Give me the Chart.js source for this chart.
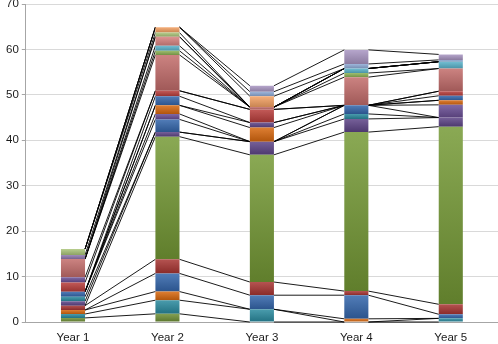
<!DOCTYPE html>
<html>
<head>
<meta charset="utf-8">
<script src="https://cdn.jsdelivr.net/npm/chart.js@4.4.1/dist/chart.umd.min.js"></script>
<style>
  html, body { margin: 0; padding: 0; background: #fff; }
  #wrap { width: 498px; height: 344px; position: relative; }
</style>
</head>
<body>
<div id="wrap"><canvas id="chart"></canvas></div>
<script>
const CATEGORIES = ["Year 1", "Year 2", "Year 3", "Year 4", "Year 5"];

// Stack per year, bottom -> top, one value per series (24 series)
const YEAR_1 = [0.9, 0.86, 0.88, 0, 0.96, 0, 0.96, 1.0, 1.1, 0, 0, 0, 0, 2.06, 1.11, 4.03, 0, 0, 0, 0.88, 1.32, 0, 0, 0];
const YEAR_2 = [1.8, 3.0, 1.9, 4.0, 3.1, 27.0, 1.0, 0, 2.8, 1.2, 1.9, 0, 2.0, 1.2, 0, 7.9, 0.9, 1.1, 2.0, 0, 0.9, 1.2, 0, 0];
const YEAR_3 = [0, 2.8, 0, 3.1, 2.9, 28.0, 2.9, 0, 0, 0, 3.1, 1.1, 0, 2.9, 0, 0.5, 0, 0, 0, 0, 0, 2.4, 1.0, 1.3];
const YEAR_4 = [0, 0, 0.7, 5.2, 0.9, 35.0, 2.9, 1.1, 1.9, 0, 0, 0, 0, 0, 0, 6.2, 0.9, 1.0, 0, 0, 0, 0, 1.0, 3.1];
const YEAR_5 = [0, 0.8, 0, 0.9, 2.2, 39.1, 2.0, 0, 0, 2.8, 1.0, 0, 1.0, 1.0, 0, 5.0, 0, 1.5, 0, 0, 0, 0, 0.4, 1.2];
const YEARS = [YEAR_1, YEAR_2, YEAR_3, YEAR_4, YEAR_5];

// Excel-ish palette, one per series
const SERIES_COLORS = [
  "#6E8F35", "#2A8A9E", "#D8680F", "#3466AC", "#A83532", "#759A36",
  "#5E4487", "#2A8A9E", "#3466AC", "#6A4E95", "#D8680F", "#5E4487",
  "#3466AC", "#B83D3A", "#6A4E95", "#C36D6B", "#8DB255", "#5AB3CB",
  "#D88280", "#8F78AE", "#ABC57A", "#F4A163", "#8EAAD6", "#A996C3",
];

const Y_MAX = 70;
const Y_STEP = 10;

function mix(hex, target, t) {
  const n = parseInt(hex.slice(1), 16);
  const ch = [(n >> 16) & 255, (n >> 8) & 255, n & 255].map((v) =>
    Math.round(v + (target - v) * t)
  );
  return `rgb(${ch[0]}, ${ch[1]}, ${ch[2]})`;
}

// vertical gradient per segment, lighter on top like the old Excel style
function segmentFill(ctx) {
  const base = SERIES_COLORS[ctx.datasetIndex];
  const chart = ctx.chart;
  if (ctx.type !== "data" || !chart.chartArea) return base;
  const stack = YEARS[ctx.dataIndex];
  let bottom = 0;
  for (let k = 0; k < ctx.datasetIndex; k++) bottom += stack[k];
  const top = bottom + stack[ctx.datasetIndex];
  const yScale = chart.scales.y;
  const y0 = yScale.getPixelForValue(top);
  const y1 = yScale.getPixelForValue(bottom);
  if (y1 - y0 < 1) return base;
  const g = chart.ctx.createLinearGradient(0, y0, 0, y1);
  g.addColorStop(0, mix(base, 255, 0.15));
  g.addColorStop(1, mix(base, 0, 0.18));
  return g;
}

// Series lines between neighbouring bars
const seriesLines = {
  id: "seriesLines",
  beforeDatasetsDraw(chart) {
    const c = chart.ctx;
    c.save();
    c.strokeStyle = "#000";
    c.lineWidth = 0.9;
    chart.data.datasets.forEach((ds, i) => {
      const bars = chart.getDatasetMeta(i).data;
      for (let j = 0; j < bars.length - 1; j++) {
        const a = bars[j];
        const b = bars[j + 1];
        c.beginPath();
        c.moveTo(a.x + a.width / 2, a.y);
        c.lineTo(b.x - b.width / 2, b.y);
        c.stroke();
      }
    });
    c.restore();
  },
};

const datasets = SERIES_COLORS.map((color, i) => ({
  label: `Series ${i + 1}`,
  data: YEARS.map((year) => year[i]),
  backgroundColor: segmentFill,
  borderWidth: 0,
  barPercentage: 0.255,
  categoryPercentage: 1.0,
}));

new Chart(document.getElementById("chart"), {
  type: "bar",
  data: { labels: CATEGORIES, datasets: datasets },
  plugins: [seriesLines],
  options: {
    responsive: true,
    maintainAspectRatio: false,
    animation: false,
    layout: { padding: { left: 3, right: 0, top: 4, bottom: 0 } },
    plugins: {
      legend: { display: false },
      tooltip: { enabled: false },
    },
    scales: {
      x: {
        stacked: true,
        grid: { display: false, drawTicks: false },
        border: { color: "#A6A6A6" },
        ticks: {
          color: "#1a1a1a",
          padding: 9,
          font: { family: "Liberation Sans", size: 11.5 },
        },
        afterFit: (scale) => {
          scale.height = 22;
        },
      },
      y: {
        stacked: true,
        min: 0,
        max: Y_MAX,
        grid: { color: "#D9D9D9", tickLength: 4, tickColor: "#A6A6A6" },
        border: { color: "#A6A6A6" },
        ticks: {
          stepSize: Y_STEP,
          color: "#1a1a1a",
          padding: 3,
          font: { family: "Liberation Sans", size: 11.5 },
        },
        afterFit: (scale) => {
          scale.paddingTop = 0;
          scale.paddingBottom = 0;
        },
      },
    },
  },
});
</script>
</body>
</html>
